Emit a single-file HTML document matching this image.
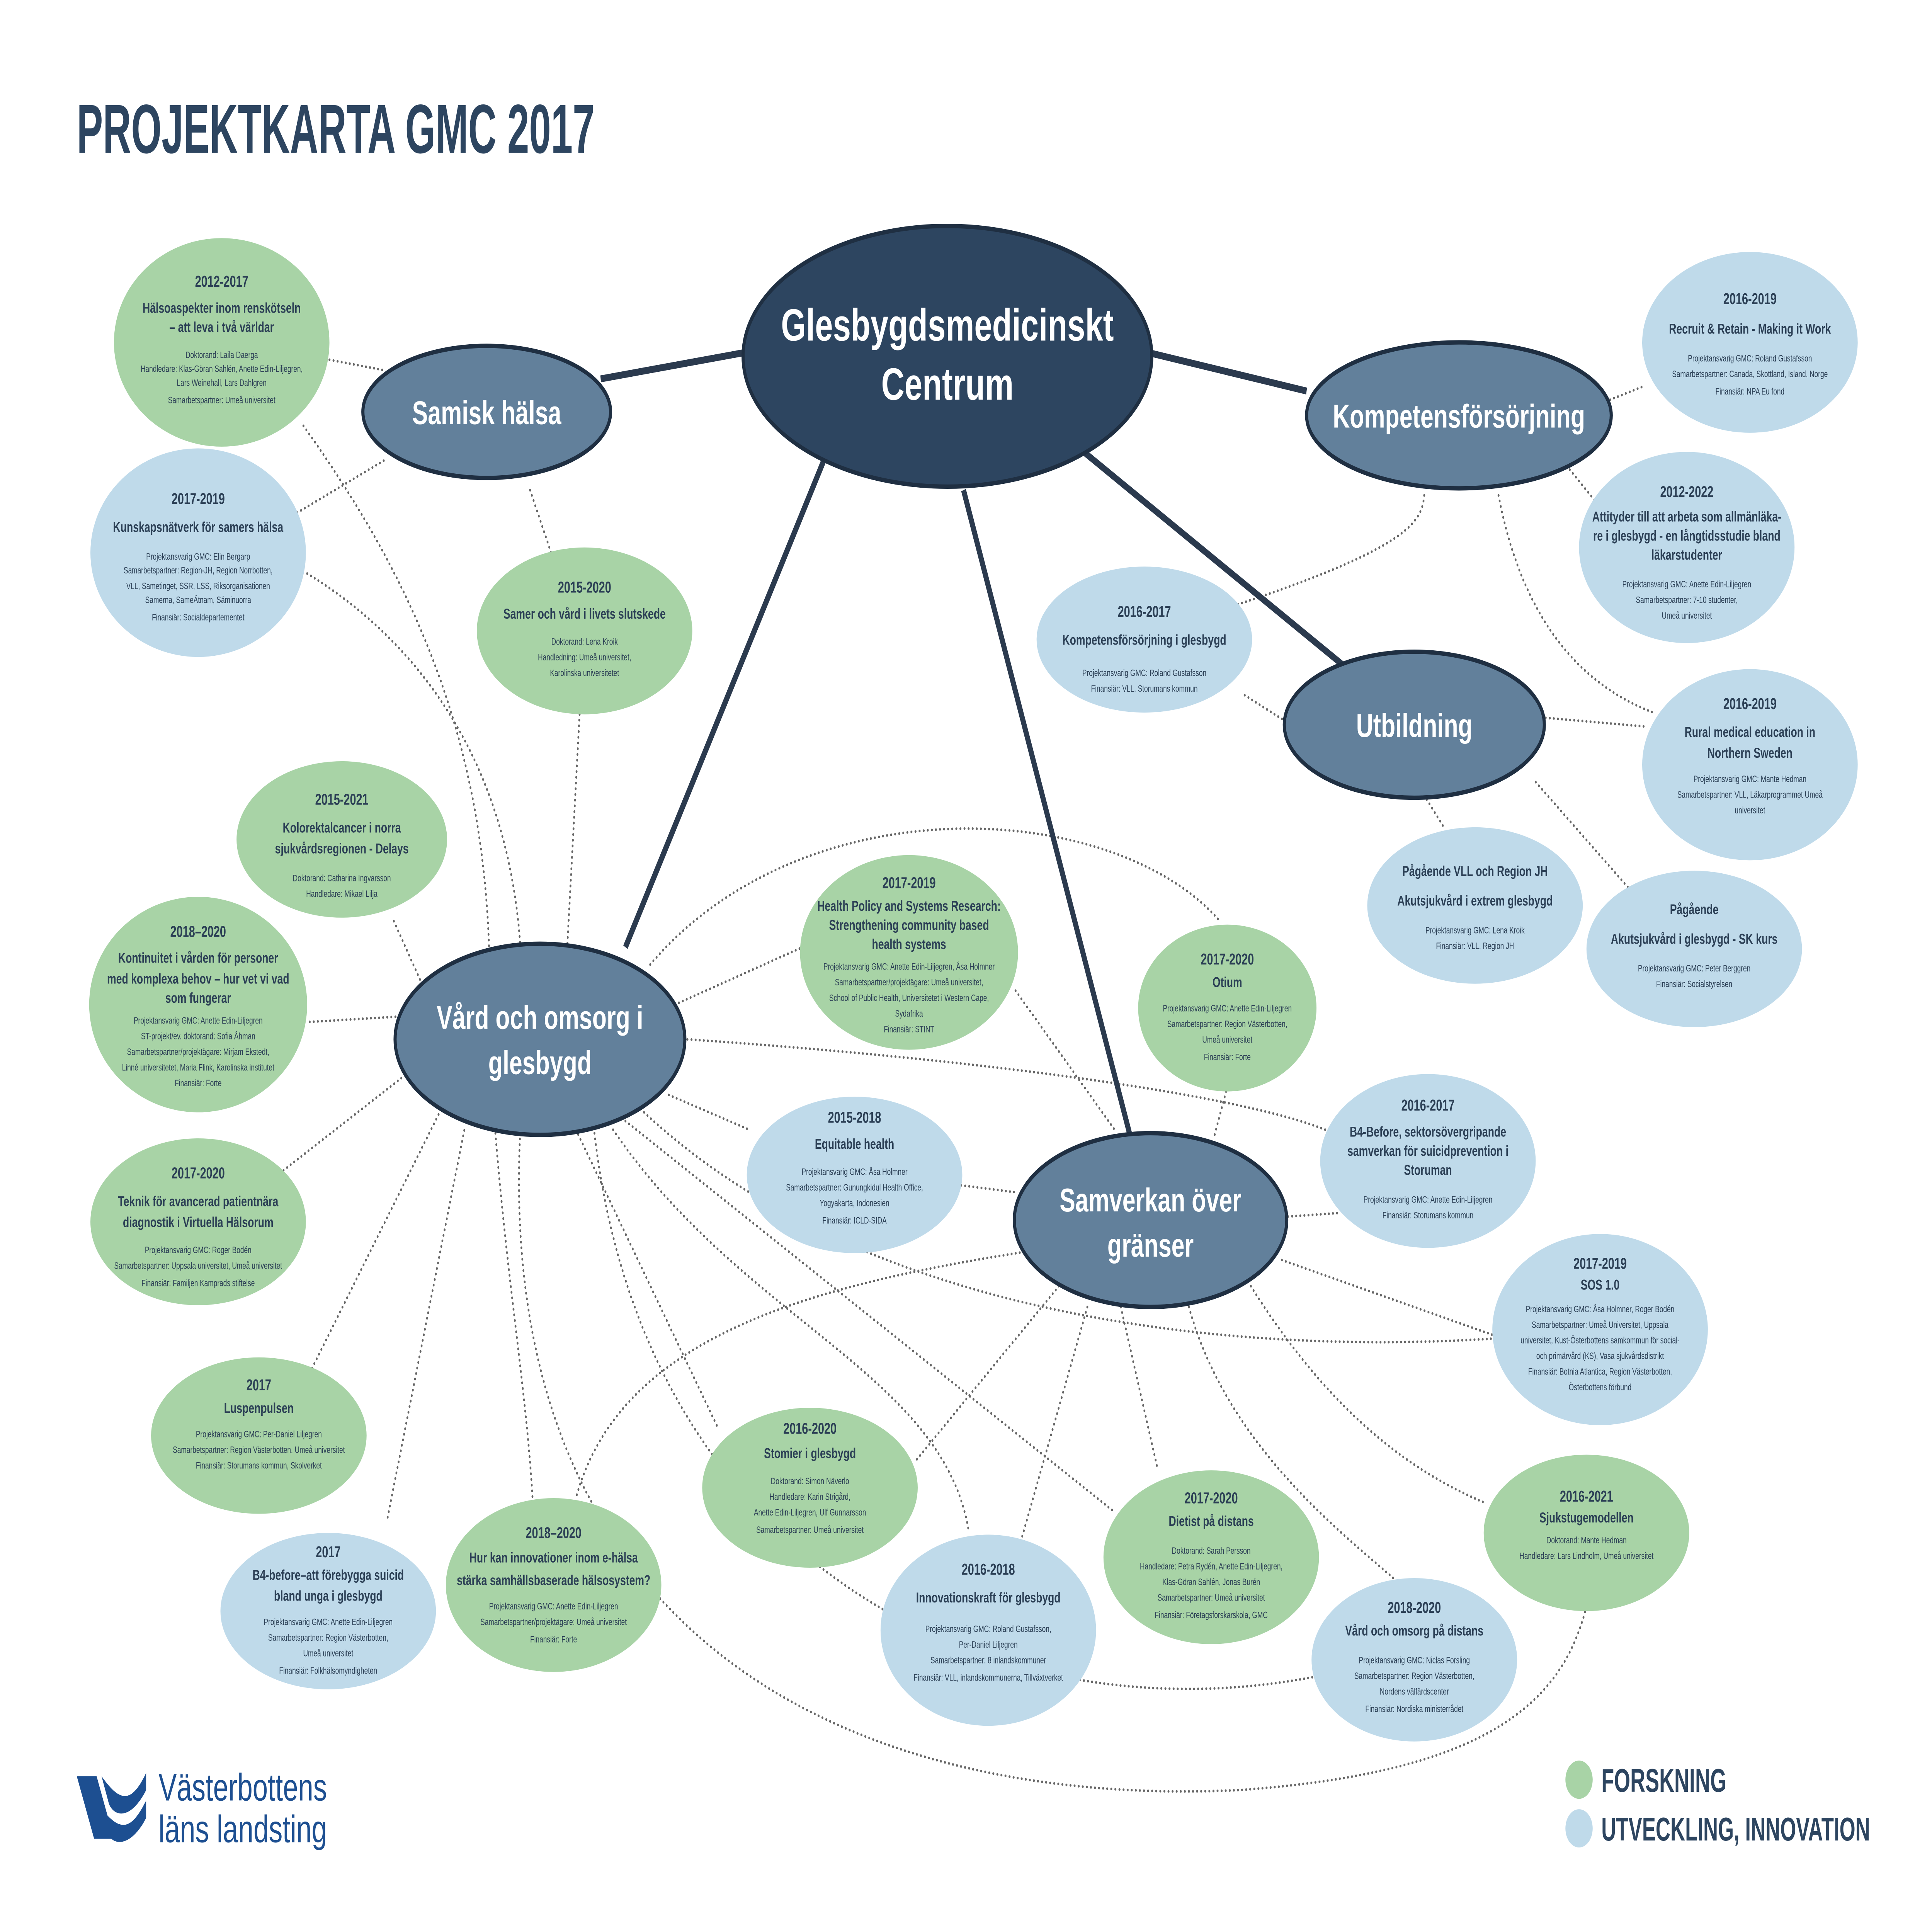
<!DOCTYPE html>
<html><head><meta charset="utf-8"><style>
html,body{margin:0;padding:0;background:#fff;width:100vw;height:100vh;overflow:hidden;}
svg{display:block;width:100vw;height:100vh;}
text{font-family:"Liberation Sans Narrow","Liberation Sans",sans-serif;fill:#2b3f55;text-anchor:middle;}
.y{font-size:9px;font-weight:bold;}
.t{font-size:8.3px;font-weight:bold;}
.s{font-size:5.4px;}
.h{font-size:19px;font-weight:bold;fill:#fff;}
.d{fill:none;stroke:#666;stroke-width:1.5;stroke-dasharray:0.1 3.2;stroke-linecap:round;}
.k{fill:none;stroke:#2b3a4e;stroke-width:4;}
.g{fill:#a8d3a6;}
.b{fill:#bfdaea;}
.hub{fill:#62809b;stroke:#1f2f42;stroke-width:2.5;}
</style></head><body>
<svg viewBox="0 0 1560 1103" preserveAspectRatio="none" xmlns="http://www.w3.org/2000/svg">
<rect width="1560" height="1103" fill="#fff"/>
<text x="62" y="88" textLength="418" lengthAdjust="spacingAndGlyphs" style="font-size:40px;font-weight:bold;fill:#2d4560;text-anchor:start">PROJEKTKARTA GMC 2017</text>

<path class="d" d="M266 207 L310 213"/>
<path class="d" d="M240 295 L310 265"/>
<path class="d" d="M428 282 L445 318"/>
<path class="d" d="M245 245 C330 330 390 420 395 548"/>
<path class="d" d="M248 330 C340 370 410 440 420 543"/>
<path class="d" d="M468 411 L458 545"/>
<path class="d" d="M1300 230 L1328 222"/>
<path class="d" d="M1265 268 L1290 290"/>
<path class="d" d="M1150 285 C1148 300 1140 315 990 350"/>
<path class="d" d="M1210 285 C1230 360 1280 395 1335 410"/>
<path class="d" d="M1005 400 L1038 415"/>
<path class="d" d="M1248 413 L1328 418"/>
<path class="d" d="M1152 460 L1165 475"/>
<path class="d" d="M1240 450 L1320 515"/>
<path class="d" d="M318 530 L340 565"/>
<path class="d" d="M250 588 L320 585"/>
<path class="d" d="M545 578 L648 545"/>
<path class="d" d="M226 675 L330 617"/>
<path class="d" d="M540 630 L605 650"/>
<path class="d" d="M555 598 C800 610 1000 630 1070 650"/>
<path class="d" d="M250 790 L355 640"/>
<path class="d" d="M313 873 L375 650"/>
<path class="d" d="M400 652 C410 740 425 800 430 862"/>
<path class="d" d="M465 650 L580 822"/>
<path class="d" d="M495 650 C600 760 760 790 782 880"/>
<path class="d" d="M505 645 L900 870"/>
<path class="d" d="M520 640 C700 760 1000 780 1210 770"/>
<path class="d" d="M420 652 C400 950 700 1040 1000 1030 C1200 1020 1260 980 1280 927"/>
<path class="d" d="M480 652 C520 900 800 1000 1060 965"/>
<path class="d" d="M525 555 C650 450 900 460 985 530"/>
<path class="d" d="M990 628 L980 655"/>
<path class="d" d="M820 570 L900 650"/>
<path class="d" d="M776 682 L820 686"/>
<path class="d" d="M1040 700 L1080 698"/>
<path class="d" d="M1035 725 L1205 768"/>
<path class="d" d="M1010 740 C1080 820 1150 850 1200 865"/>
<path class="d" d="M960 752 C990 830 1080 880 1125 908"/>
<path class="d" d="M905 752 L935 846"/>
<path class="d" d="M878 752 L825 885"/>
<path class="d" d="M855 740 L740 840"/>
<path class="d" d="M830 720 C650 740 500 770 465 862"/>

<path class="k" d="M600 203 L485 218"/>
<path class="k" d="M928 203 L1055 225"/>
<path class="k" d="M875 260 L1085 383"/>
<path class="k" d="M668 260 L505 545"/>
<path class="k" d="M778 282 L912 652"/>

<ellipse cx="765" cy="205" rx="165" ry="75" fill="#2d4560" stroke="#1f2f42" stroke-width="2.5"/>
<text x="765" y="196" class="h" style="font-size:26px">Glesbygdsmedicinskt</text>
<text x="765" y="230" class="h" style="font-size:26px">Centrum</text>

<ellipse class="hub" cx="393" cy="237" rx="100" ry="38"/><text class="h" x="393" y="244">Samisk hälsa</text>
<ellipse class="hub" cx="1178" cy="239" rx="123" ry="42"/><text class="h" x="1178" y="246">Kompetensförsörjning</text>
<ellipse class="hub" cx="1142" cy="417" rx="105" ry="42"/><text class="h" x="1142" y="424">Utbildning</text>
<ellipse class="hub" cx="436" cy="598" rx="117" ry="55"/><text class="h" x="436" y="592">Vård och omsorg i</text><text class="h" x="436" y="618">glesbygd</text>
<ellipse class="hub" cx="929" cy="702" rx="110" ry="50"/><text class="h" x="929" y="697">Samverkan över</text><text class="h" x="929" y="723">gränser</text>

<ellipse class="g" cx="179" cy="197" rx="87" ry="60"/>
<text class="y" x="179" y="165">2012-2017</text><text class="t" x="179" y="180">Hälsoaspekter inom renskötseln</text><text class="t" x="179" y="191">– att leva i två världar</text>
<text class="s" x="179" y="206">Doktorand: Laila Daerga</text><text class="s" x="179" y="214">Handledare: Klas-Göran Sahlén, Anette Edin-Liljegren,</text><text class="s" x="179" y="222">Lars Weinehall, Lars Dahlgren</text><text class="s" x="179" y="232">Samarbetspartner: Umeå universitet</text>

<ellipse class="b" cx="160" cy="318" rx="87" ry="60"/>
<text class="y" x="160" y="290">2017-2019</text><text class="t" x="160" y="306">Kunskapsnätverk för samers hälsa</text>
<text class="s" x="160" y="322">Projektansvarig GMC: Elin Bergarp</text><text class="s" x="160" y="330">Samarbetspartner: Region-JH, Region Norrbotten,</text><text class="s" x="160" y="339">VLL, Sametinget, SSR, LSS, Riksorganisationen</text><text class="s" x="160" y="347">Samerna, SameÄtnam, Sáminuorra</text><text class="s" x="160" y="357">Finansiär: Socialdepartementet</text>

<ellipse class="g" cx="472" cy="363" rx="87" ry="48"/>
<text class="y" x="472" y="341">2015-2020</text><text class="t" x="472" y="356">Samer och vård i livets slutskede</text>
<text class="s" x="472" y="371">Doktorand: Lena Kroik</text><text class="s" x="472" y="380">Handledning: Umeå universitet,</text><text class="s" x="472" y="389">Karolinska universitetet</text>

<ellipse class="b" cx="1413" cy="197" rx="87" ry="52"/>
<text class="y" x="1413" y="175">2016-2019</text><text class="t" x="1413" y="192">Recruit &amp; Retain - Making it Work</text>
<text class="s" x="1413" y="208">Projektansvarig GMC: Roland Gustafsson</text><text class="s" x="1413" y="217">Samarbetspartner: Canada, Skottland, Island, Norge</text><text class="s" x="1413" y="227">Finansiär: NPA Eu fond</text>

<ellipse class="b" cx="1362" cy="315" rx="87" ry="55"/>
<text class="y" x="1362" y="286">2012-2022</text><text class="t" x="1362" y="300">Attityder till att arbeta som allmänläka-</text><text class="t" x="1362" y="311">re i glesbygd - en långtidsstudie bland</text><text class="t" x="1362" y="322">läkarstudenter</text>
<text class="s" x="1362" y="338">Projektansvarig GMC: Anette Edin-Liljegren</text><text class="s" x="1362" y="347">Samarbetspartner: 7-10 studenter,</text><text class="s" x="1362" y="356">Umeå universitet</text>

<ellipse class="b" cx="924" cy="368" rx="87" ry="42"/>
<text class="y" x="924" y="355">2016-2017</text><text class="t" x="924" y="371">Kompetensförsörjning i glesbygd</text>
<text class="s" x="924" y="389">Projektansvarig GMC: Roland Gustafsson</text><text class="s" x="924" y="398">Finansiär: VLL, Storumans kommun</text>

<ellipse class="b" cx="1413" cy="440" rx="87" ry="55"/>
<text class="y" x="1413" y="408">2016-2019</text><text class="t" x="1413" y="424">Rural medical education in</text><text class="t" x="1413" y="436">Northern Sweden</text>
<text class="s" x="1413" y="450">Projektansvarig GMC: Mante Hedman</text><text class="s" x="1413" y="459">Samarbetspartner: VLL, Läkarprogrammet Umeå</text><text class="s" x="1413" y="468">universitet</text>

<ellipse class="b" cx="1191" cy="521" rx="87" ry="45"/>
<text class="t" x="1191" y="504">Pågående VLL och Region JH</text><text class="t" x="1191" y="521">Akutsjukvård i extrem glesbygd</text>
<text class="s" x="1191" y="537">Projektansvarig GMC: Lena Kroik</text><text class="s" x="1191" y="546">Finansiär: VLL, Region JH</text>

<ellipse class="b" cx="1368" cy="546" rx="87" ry="45"/>
<text class="t" x="1368" y="526">Pågående</text><text class="t" x="1368" y="543">Akutsjukvård i glesbygd - SK kurs</text>
<text class="s" x="1368" y="559">Projektansvarig GMC: Peter Berggren</text><text class="s" x="1368" y="568">Finansiär: Socialstyrelsen</text>

<ellipse class="g" cx="276" cy="483" rx="85" ry="45"/>
<text class="y" x="276" y="463">2015-2021</text><text class="t" x="276" y="479">Kolorektalcancer i norra</text><text class="t" x="276" y="491">sjukvårdsregionen - Delays</text>
<text class="s" x="276" y="507">Doktorand: Catharina Ingvarsson</text><text class="s" x="276" y="516">Handledare: Mikael Lilja</text>

<ellipse class="g" cx="160" cy="578" rx="88" ry="62"/>
<text class="y" x="160" y="539">2018–2020</text><text class="t" x="160" y="554">Kontinuitet i vården för personer</text><text class="t" x="160" y="566">med komplexa behov – hur vet vi vad</text><text class="t" x="160" y="577">som fungerar</text>
<text class="s" x="160" y="589">Projektansvarig GMC: Anette Edin-Liljegren</text><text class="s" x="160" y="598">ST-projekt/ev. doktorand: Sofia Åhman</text><text class="s" x="160" y="607">Samarbetspartner/projektägare: Mirjam Ekstedt,</text><text class="s" x="160" y="616">Linné universitetet, Maria Flink, Karolinska institutet</text><text class="s" x="160" y="625">Finansiär: Forte</text>

<ellipse class="g" cx="734" cy="548" rx="88" ry="56"/>
<text class="y" x="734" y="511">2017-2019</text><text class="t" x="734" y="524">Health Policy and Systems Research:</text><text class="t" x="734" y="535">Strengthening community based</text><text class="t" x="734" y="546">health systems</text>
<text class="s" x="734" y="558">Projektansvarig GMC: Anette Edin-Liljegren, Åsa Holmner</text><text class="s" x="734" y="567">Samarbetspartner/projektägare: Umeå universitet,</text><text class="s" x="734" y="576">School of Public Health, Universitetet i Western Cape,</text><text class="s" x="734" y="585">Sydafrika</text><text class="s" x="734" y="594">Finansiär: STINT</text>

<ellipse class="g" cx="991" cy="580" rx="72" ry="48"/>
<text class="y" x="991" y="555">2017-2020</text><text class="t" x="991" y="568">Otium</text>
<text class="s" x="991" y="582">Projektansvarig GMC: Anette Edin-Liljegren</text><text class="s" x="991" y="591">Samarbetspartner: Region Västerbotten,</text><text class="s" x="991" y="600">Umeå universitet</text><text class="s" x="991" y="610">Finansiär: Forte</text>

<ellipse class="b" cx="690" cy="676" rx="87" ry="45"/>
<text class="y" x="690" y="646">2015-2018</text><text class="t" x="690" y="661">Equitable health</text>
<text class="s" x="690" y="676">Projektansvarig GMC: Åsa Holmner</text><text class="s" x="690" y="685">Samarbetspartner: Gunungkidul Health Office,</text><text class="s" x="690" y="694">Yogyakarta, Indonesien</text><text class="s" x="690" y="704">Finansiär: ICLD-SIDA</text>

<ellipse class="b" cx="1153" cy="668" rx="87" ry="50"/>
<text class="y" x="1153" y="639">2016-2017</text><text class="t" x="1153" y="654">B4-Before, sektorsövergripande</text><text class="t" x="1153" y="665">samverkan för suicidprevention i</text><text class="t" x="1153" y="676">Storuman</text>
<text class="s" x="1153" y="692">Projektansvarig GMC: Anette Edin-Liljegren</text><text class="s" x="1153" y="701">Finansiär: Storumans kommun</text>

<ellipse class="g" cx="160" cy="703" rx="87" ry="48"/>
<text class="y" x="160" y="678">2017-2020</text><text class="t" x="160" y="694">Teknik för avancerad patientnära</text><text class="t" x="160" y="706">diagnostik i Virtuella Hälsorum</text>
<text class="s" x="160" y="721">Projektansvarig GMC: Roger Bodén</text><text class="s" x="160" y="730">Samarbetspartner: Uppsala universitet, Umeå universitet</text><text class="s" x="160" y="740">Finansiär: Familjen Kamprads stiftelse</text>

<ellipse class="b" cx="1292" cy="765" rx="87" ry="55"/>
<text class="y" x="1292" y="730">2017-2019</text><text class="t" x="1292" y="742">SOS 1.0</text>
<text class="s" x="1292" y="755">Projektansvarig GMC: Åsa Holmner, Roger Bodén</text><text class="s" x="1292" y="764">Samarbetspartner: Umeå Universitet, Uppsala</text><text class="s" x="1292" y="773">universitet, Kust-Österbottens samkommun för social-</text><text class="s" x="1292" y="782">och primärvård (KS), Vasa sjukvårdsdistrikt</text><text class="s" x="1292" y="791">Finansiär: Botnia Atlantica, Region Västerbotten,</text><text class="s" x="1292" y="800">Österbottens förbund</text>

<ellipse class="g" cx="209" cy="826" rx="87" ry="45"/>
<text class="y" x="209" y="800">2017</text><text class="t" x="209" y="813">Luspenpulsen</text>
<text class="s" x="209" y="827">Projektansvarig GMC: Per-Daniel Liljegren</text><text class="s" x="209" y="836">Samarbetspartner: Region Västerbotten, Umeå universitet</text><text class="s" x="209" y="845">Finansiär: Storumans kommun, Skolverket</text>

<ellipse class="g" cx="654" cy="856" rx="87" ry="46"/>
<text class="y" x="654" y="825">2016-2020</text><text class="t" x="654" y="839">Stomier i glesbygd</text>
<text class="s" x="654" y="854">Doktorand: Simon Näverlo</text><text class="s" x="654" y="863">Handledare: Karin Strigård,</text><text class="s" x="654" y="872">Anette Edin-Liljegren, Ulf Gunnarsson</text><text class="s" x="654" y="882">Samarbetspartner: Umeå universitet</text>

<ellipse class="g" cx="1281" cy="882" rx="83" ry="45"/>
<text class="y" x="1281" y="864">2016-2021</text><text class="t" x="1281" y="876">Sjukstugemodellen</text>
<text class="s" x="1281" y="888">Doktorand: Mante Hedman</text><text class="s" x="1281" y="897">Handledare: Lars Lindholm, Umeå universitet</text>

<ellipse class="g" cx="978" cy="896" rx="87" ry="50"/>
<text class="y" x="978" y="865">2017-2020</text><text class="t" x="978" y="878">Dietist på distans</text>
<text class="s" x="978" y="894">Doktorand: Sarah Persson</text><text class="s" x="978" y="903">Handledare: Petra Rydén, Anette Edin-Liljegren,</text><text class="s" x="978" y="912">Klas-Göran Sahlén, Jonas Burén</text><text class="s" x="978" y="921">Samarbetspartner: Umeå universitet</text><text class="s" x="978" y="931">Finansiär: Företagsforskarskola, GMC</text>

<ellipse class="b" cx="265" cy="927" rx="87" ry="45"/>
<text class="y" x="265" y="896">2017</text><text class="t" x="265" y="909">B4-before–att förebygga suicid</text><text class="t" x="265" y="921">bland unga i glesbygd</text>
<text class="s" x="265" y="935">Projektansvarig GMC: Anette Edin-Liljegren</text><text class="s" x="265" y="944">Samarbetspartner: Region Västerbotten,</text><text class="s" x="265" y="953">Umeå universitet</text><text class="s" x="265" y="963">Finansiär: Folkhälsomyndigheten</text>

<ellipse class="g" cx="447" cy="912" rx="87" ry="50"/>
<text class="y" x="447" y="885">2018–2020</text><text class="t" x="447" y="899">Hur kan innovationer inom e-hälsa</text><text class="t" x="447" y="912">stärka samhällsbaserade hälsosystem?</text>
<text class="s" x="447" y="926">Projektansvarig GMC: Anette Edin-Liljegren</text><text class="s" x="447" y="935">Samarbetspartner/projektägare: Umeå universitet</text><text class="s" x="447" y="945">Finansiär: Forte</text>

<ellipse class="b" cx="798" cy="938" rx="87" ry="55"/>
<text class="y" x="798" y="906">2016-2018</text><text class="t" x="798" y="922">Innovationskraft för glesbygd</text>
<text class="s" x="798" y="939">Projektansvarig GMC: Roland Gustafsson,</text><text class="s" x="798" y="948">Per-Daniel Liljegren</text><text class="s" x="798" y="957">Samarbetspartner: 8 inlandskommuner</text><text class="s" x="798" y="967">Finansiär: VLL, inlandskommunerna, Tillväxtverket</text>

<ellipse class="b" cx="1142" cy="955" rx="83" ry="47"/>
<text class="y" x="1142" y="928">2018-2020</text><text class="t" x="1142" y="941">Vård och omsorg på distans</text>
<text class="s" x="1142" y="957">Projektansvarig GMC: Niclas Forsling</text><text class="s" x="1142" y="966">Samarbetspartner: Region Västerbotten,</text><text class="s" x="1142" y="975">Nordens välfärdscenter</text><text class="s" x="1142" y="985">Finansiär: Nordiska ministerrådet</text>

<g fill="#1d4f91">
<path d="M62 1022 L78 1022 L92 1058 L76 1058 Z"/>
<path d="M82 1022 C95 1035 105 1040 118 1020 L118 1030 C105 1048 92 1045 88 1038 Z"/>
<path d="M86 1044 C100 1055 108 1050 118 1036 L118 1046 C108 1060 96 1062 90 1058 Z"/>
</g>
<text x="128" y="1036" textLength="136" lengthAdjust="spacingAndGlyphs" style="font-size:22px;fill:#1d4f91;text-anchor:start;font-family:'Liberation Sans',sans-serif">Västerbottens</text>
<text x="128" y="1060" textLength="136" lengthAdjust="spacingAndGlyphs" style="font-size:22px;fill:#1d4f91;text-anchor:start;font-family:'Liberation Sans',sans-serif">läns landsting</text>

<circle cx="1275" cy="1024" r="11" fill="#a8d3a6"/>
<text x="1293" y="1031" textLength="101" lengthAdjust="spacingAndGlyphs" style="font-size:19px;font-weight:bold;fill:#2d4560;text-anchor:start">FORSKNING</text>
<circle cx="1275" cy="1052" r="11" fill="#bfdaea"/>
<text x="1293" y="1059" textLength="217" lengthAdjust="spacingAndGlyphs" style="font-size:19px;font-weight:bold;fill:#2d4560;text-anchor:start">UTVECKLING, INNOVATION</text>
</svg>
</body></html>
